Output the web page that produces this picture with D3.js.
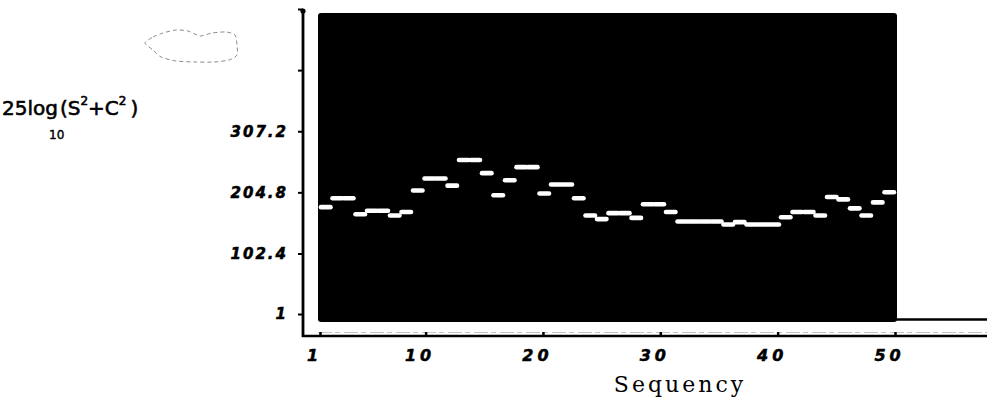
<!DOCTYPE html>
<html>
<head>
<meta charset="utf-8">
<script src="https://cdn.jsdelivr.net/npm/d3@7/dist/d3.min.js"></script>
<style>
  html, body { margin: 0; padding: 0; background: #fff; }
  svg { display: block; }
  .hand { font-family: "DejaVu Sans", sans-serif; font-weight: bold; font-style: oblique; fill: #000; stroke: #000; stroke-width: 0.5px; }
</style>
</head>
<body>
<svg id="chart" width="987" height="414"></svg>
<script>
// Sequency index (1..50)
const sequency = [1, 2, 3, 4, 5, 6, 7, 8, 9, 10,
                  11, 12, 13, 14, 15, 16, 17, 18, 19, 20,
                  21, 22, 23, 24, 25, 26, 27, 28, 29, 30,
                  31, 32, 33, 34, 35, 36, 37, 38, 39, 40,
                  41, 42, 43, 44, 45, 46, 47, 48, 49, 50];

// Power spectrum, 25·log10(S² + C²), one value per sequency
const power = [180, 195, 195, 168, 174, 174, 166, 172, 208, 228,
               228, 216, 259, 259, 237, 200, 225, 247, 247, 203,
               218, 218, 195, 166, 160, 170, 170, 162, 185, 185,
               172, 156, 156, 156, 156, 151, 155, 151, 151, 151,
               163, 172, 172, 166, 197, 193, 178, 166, 188, 205];

// Axis ticks
const xTickValues = [1, 10, 20, 30, 40, 50];
const xTickLabels = ["1", "10", "20", "30", "40", "50"];
const yTickValues = [1, 102.4, 204.8, 307.2, 409.6, 512];
const yTickLabels = ["1", "102.4", "204.8", "307.2", "", ""];

const svg = d3.select("#chart");

// Frame geometry
const axisX = 303;       // vertical axis line
const axisY = 336;       // horizontal axis line
const plot = { left: 318, right: 897, top: 13, bottom: 322 };

// Scales
const xBand = d3.scaleBand().domain(sequency).range([320, 895]).padding(0);
const xLin = d3.scaleLinear().domain([1, 50]).range([320, 895]);
const y = d3.scaleLinear().domain([1, 512]).range([314, 9]);

// Decorative cloud doodle
const cloud = [[145, 43], [153, 37], [163, 33], [176, 30], [188, 31], [200, 36],
               [212, 33], [226, 32], [235, 35], [237, 45], [237, 55], [229, 60],
               [214, 62], [195, 62], [176, 61], [161, 57], [153, 50]];
svg.append("path")
  .attr("d", d3.line().curve(d3.curveCardinalClosed.tension(0.3))(cloud))
  .attr("fill", "none")
  .attr("stroke", "#8a8a8a")
  .attr("stroke-width", 1)
  .attr("stroke-dasharray", "4,3");

// Black display area
svg.append("rect")
  .attr("x", plot.left).attr("y", plot.top)
  .attr("width", plot.right - plot.left)
  .attr("height", plot.bottom - plot.top)
  .attr("rx", 3)
  .attr("fill", "#000");

// Baseline continuing to the right of the display
svg.append("line")
  .attr("x1", plot.right - 2).attr("x2", 987)
  .attr("y1", 319.5).attr("y2", 319.5)
  .attr("stroke", "#000").attr("stroke-width", 2.5);

// Faint trace just above the horizontal axis
svg.append("line")
  .attr("x1", plot.left).attr("x2", 987)
  .attr("y1", 332.5).attr("y2", 332.5)
  .attr("stroke", "#c4c4c4").attr("stroke-width", 1)
  .attr("stroke-dasharray", "14,3,5,4");

// Spectrum dashes
svg.append("g")
  .selectAll("line")
  .data(sequency.map((s, i) => ({ s, v: power[i] })))
  .join("line")
  .attr("x1", d => xBand(d.s) + 1)
  .attr("x2", d => xBand(d.s) + xBand.bandwidth() - 1)
  .attr("y1", d => y(d.v))
  .attr("y2", d => y(d.v))
  .attr("stroke", "#fff")
  .attr("stroke-width", 4.6)
  .attr("stroke-linecap", "round");

// Vertical axis
const yAxis = d3.axisLeft(y)
  .tickValues(yTickValues)
  .tickFormat((d, i) => yTickLabels[i])
  .tickSizeInner(5)
  .tickSizeOuter(0)
  .tickPadding(10);
const gy = svg.append("g").attr("transform", `translate(${axisX},0)`).call(yAxis);
gy.select(".domain").remove();
gy.selectAll(".tick line").attr("stroke", "#000").attr("stroke-width", 2);
gy.selectAll(".tick text")
  .attr("class", "hand")
  .style("font-size", "15px")
  .style("letter-spacing", "2px");

svg.append("line")
  .attr("x1", axisX).attr("x2", axisX)
  .attr("y1", y(512) + 1).attr("y2", axisY + 1)
  .attr("stroke", "#000").attr("stroke-width", 2.8);
svg.append("circle")
  .attr("cx", axisX).attr("cy", y(512) + 2).attr("r", 2.6).attr("fill", "#000");

// Horizontal axis
const xAxis = d3.axisBottom(xLin)
  .tickValues(xTickValues)
  .tickFormat((d, i) => xTickLabels[i])
  .tickSizeInner(-4)
  .tickSizeOuter(0)
  .tickPadding(14);
const gx = svg.append("g").attr("transform", `translate(0,${axisY})`).call(xAxis);
gx.select(".domain").remove();
gx.selectAll(".tick line").attr("stroke", "#000").attr("stroke-width", 2.5);
gx.selectAll(".tick text")
  .attr("class", "hand")
  .attr("dx", "-6")
  .style("font-size", "16px")
  .style("letter-spacing", "4px");

svg.append("line")
  .attr("x1", axisX - 1).attr("x2", 987)
  .attr("y1", axisY).attr("y2", axisY)
  .attr("stroke", "#000").attr("stroke-width", 2.6);

// Axis titles
svg.append("text")
  .attr("x", 680).attr("y", 392)
  .attr("text-anchor", "middle")
  .style("font-family", "'DejaVu Serif', serif")
  .style("font-size", "22px")
  .style("letter-spacing", "3px")
  .attr("fill", "#000")
  .text("Sequency");

const title = svg.append("text")
  .attr("x", 2).attr("y", 115)
  .style("font-family", "'DejaVu Sans', sans-serif")
  .style("font-size", "20px")
  .attr("fill", "#000")
  .attr("stroke", "#000").attr("stroke-width", 0.6);
title.append("tspan").text("25log");
title.append("tspan").attr("dx", 2).text("(S");
title.append("tspan").attr("dy", -10).style("font-size", "12px").text("2");
title.append("tspan").attr("dy", 10).text("+C");
title.append("tspan").attr("dy", -10).style("font-size", "12px").text("2");
title.append("tspan").attr("dy", 10).attr("dx", 4).text(")");
svg.append("text")
  .attr("x", 49).attr("y", 139)
  .style("font-family", "'DejaVu Sans', sans-serif")
  .style("font-size", "12px")
  .attr("fill", "#000")
  .attr("stroke", "#000").attr("stroke-width", 0.4)
  .text("10");
</script>
</body>
</html>
